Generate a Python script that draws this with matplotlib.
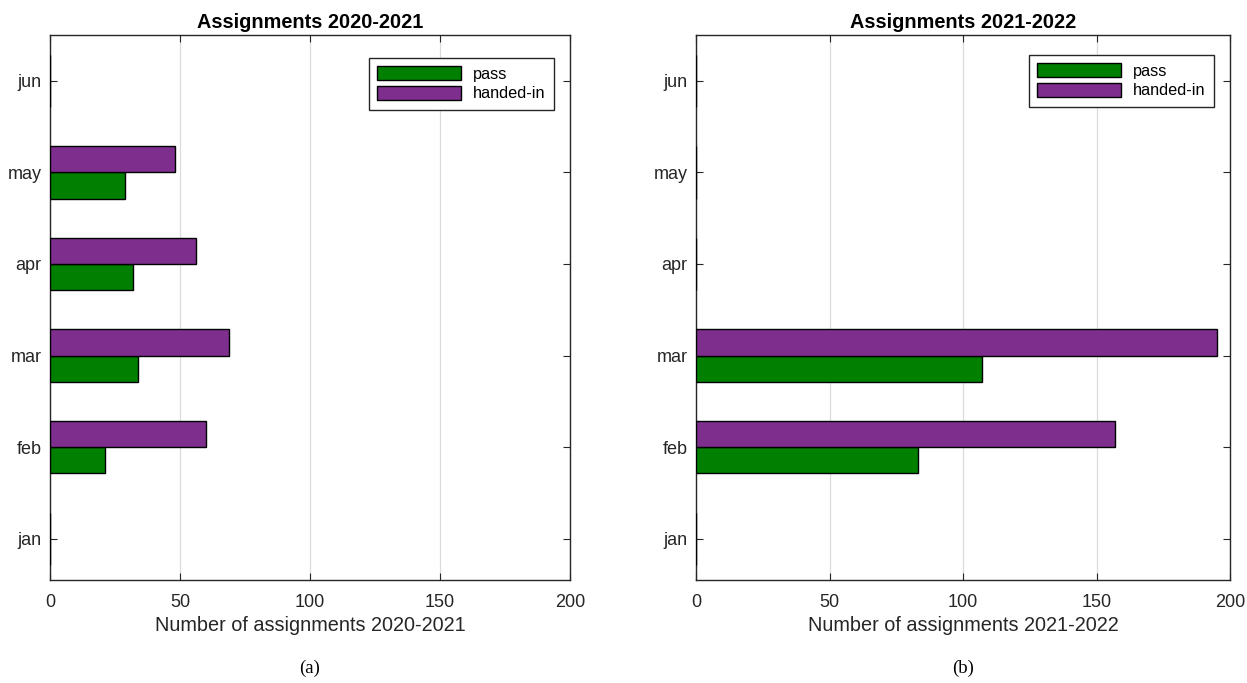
import numpy as np
import matplotlib.pyplot as plt

plt.rcParams['font.family'] = ['Liberation Sans', 'DejaVu Sans']

months = ['jan', 'feb', 'mar', 'apr', 'may', 'jun']

# 2020-2021
pass_a = [0, 21, 34, 32, 29, 0]
handed_a = [0, 60, 69, 56, 48, 0]

# 2021-2022
pass_b = [0, 83, 107, 0, 0, 0]
handed_b = [0, 157, 195, 0, 0, 0]

green = '#007f00'
purple = '#7e2f8e'

fig = plt.figure(figsize=(12.47, 6.83), dpi=100)
W, H = 1247, 683

def panel(x0, x1, passed, handed, year, caption, leg_top):
    ax = fig.add_axes([x0 / W, 1 - 580 / H, (x1 - x0) / W, 545 / H])
    y = np.arange(1, len(months) + 1)
    h = 0.285
    ax.barh(y - h / 2, passed, height=h, color=green, edgecolor='black',
            linewidth=1, label='pass', zorder=3)
    ax.barh(y + h / 2, handed, height=h, color=purple, edgecolor='black',
            linewidth=1, label='handed-in', zorder=3)
    ax.set_xlim(0, 200)
    ax.set_ylim(0.55, 6.5)
    ax.set_xticks([0, 50, 100, 150, 200])
    ax.set_yticks(y)
    ax.set_yticklabels(months)
    ax.grid(axis='x', color='#dcdcdc', linewidth=0.9, zorder=0)
    ax.tick_params(direction='in', top=True, right=True, length=5,
                   labelsize=13, colors='#262626', pad=6)
    ax.tick_params(axis='x', pad=10)
    for s in ax.spines.values():
        s.set_color('#262626')
        s.set_linewidth(1.0)
    ax.set_xlabel('Number of assignments ' + year, fontsize=14.3,
                  color='#262626', labelpad=4)
    ax.set_title('Assignments ' + year, fontsize=14.3, fontweight='bold', pad=5)
    ax.legend(loc='upper right',
              bbox_to_anchor=(1 - 16 / (x1 - x0), 1 - (leg_top - 35) / 545),
              fontsize=11.7, handlelength=5.2, handleheight=0.95,
              borderaxespad=0, fancybox=False, edgecolor='#262626',
              framealpha=1, borderpad=0.5, labelspacing=0.25,
              handletextpad=0.75)
    fig.text((x0 + x1) / 2 / W, 1 - 668 / H, caption, ha='center', va='center',
             fontsize=13.5, family='Liberation Serif')
    return ax

panel(50, 570, pass_a, handed_a, '2020-2021', '(a)', 58)
panel(696, 1230, pass_b, handed_b, '2021-2022', '(b)', 55)

fig.savefig('out.png', dpi=100)
